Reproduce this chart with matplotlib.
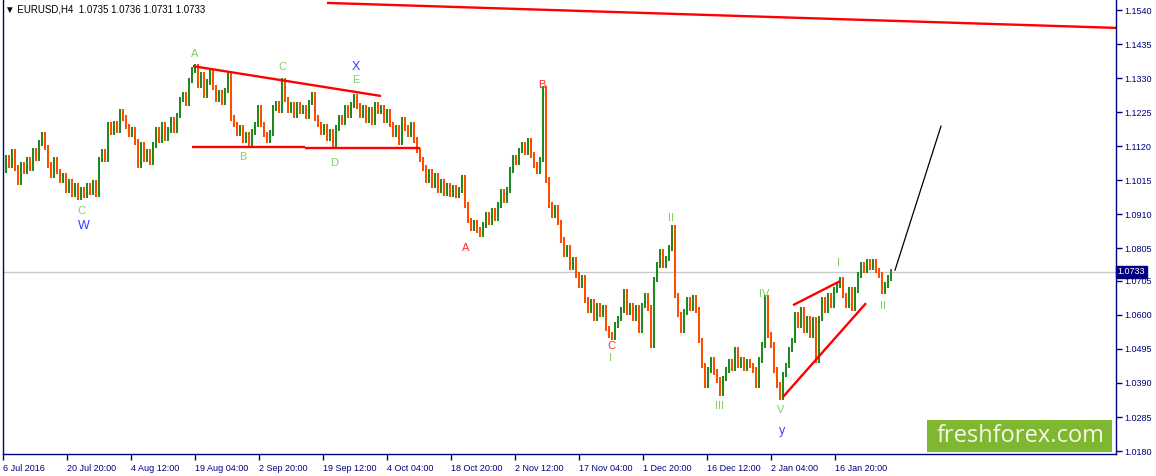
import numpy as np
import matplotlib
matplotlib.use("Agg")
import matplotlib.pyplot as plt
from matplotlib.transforms import blended_transform_factory

closes = [
    1.1047, 1.1084, 1.1062, 1.1102, 1.1053, 1.1010, 1.1062, 1.1041, 1.1078, 1.1053,
    1.1108, 1.1084, 1.1130, 1.1155, 1.1115, 1.1062, 1.1031, 1.1078, 1.1041, 1.1016,
    1.1031, 1.0985, 1.1010, 1.0973, 1.1000, 1.0963, 1.0985, 1.0967, 1.1000, 1.0979,
    1.1007, 1.0970, 1.1078, 1.1102, 1.1078, 1.1186, 1.1164, 1.1189, 1.1170, 1.1226,
    1.1207, 1.1182, 1.1155, 1.1170, 1.1133, 1.1062, 1.1124, 1.1078, 1.1102, 1.1071,
    1.1124, 1.1170, 1.1139, 1.1186, 1.1145, 1.1170, 1.1201, 1.1170, 1.1216, 1.1263,
    1.1278, 1.1253, 1.1324, 1.1355, 1.1367, 1.1309, 1.1340, 1.1278, 1.1318, 1.1349,
    1.1300, 1.1263, 1.1287, 1.1256, 1.1293, 1.1337, 1.1207, 1.1186, 1.1161, 1.1176,
    1.1139, 1.1155, 1.1127, 1.1164, 1.1186, 1.1238, 1.1186, 1.1155, 1.1139, 1.1161,
    1.1238, 1.1253, 1.1232, 1.1324, 1.1263, 1.1232, 1.1250, 1.1216, 1.1247, 1.1226,
    1.1238, 1.1213, 1.1256, 1.1278, 1.1207, 1.1186, 1.1164, 1.1182, 1.1145, 1.1164,
    1.1124, 1.1176, 1.1207, 1.1195, 1.1238, 1.1216, 1.1247, 1.1272, 1.1244, 1.1216,
    1.1238, 1.1201, 1.1232, 1.1195, 1.1247, 1.1226, 1.1238, 1.1201, 1.1226, 1.1186,
    1.1155, 1.1176, 1.1133, 1.1201, 1.1176, 1.1155, 1.1186, 1.1139, 1.1108, 1.1078,
    1.1053, 1.1016, 1.1041, 1.1000, 1.1031, 1.0985, 1.1010, 1.0976, 1.1000, 1.0970,
    1.0991, 1.0967, 1.0985, 1.1022, 1.0939, 1.0892, 1.0868, 1.0886, 1.0862, 1.0849,
    1.0877, 1.0908, 1.0886, 1.0923, 1.0899, 1.0939, 1.0979, 1.0954, 1.0985, 1.1047,
    1.1084, 1.1071, 1.1108, 1.1124, 1.1102, 1.1136, 1.1093, 1.1062, 1.1041, 1.1078,
    1.1297, 1.1016, 1.0939, 1.0908, 1.0930, 1.0886, 1.0831, 1.0785, 1.0806, 1.0745,
    1.0769, 1.0723, 1.0692, 1.0714, 1.0646, 1.0615, 1.0640, 1.0590, 1.0630, 1.0600,
    1.0621, 1.0559, 1.0538, 1.0529, 1.0569, 1.0590, 1.0615, 1.0671, 1.0609, 1.0630,
    1.0590, 1.0621, 1.0553, 1.0630, 1.0661, 1.0621, 1.0507, 1.0708, 1.0754, 1.0794,
    1.0754, 1.0775, 1.0806, 1.0868, 1.0661, 1.0600, 1.0553, 1.0609, 1.0646, 1.0621,
    1.0652, 1.0615, 1.0522, 1.0445, 1.0384, 1.0430, 1.0461, 1.0424, 1.0399, 1.0359,
    1.0405, 1.0430, 1.0455, 1.0436, 1.0492, 1.0445, 1.0461, 1.0436, 1.0455, 1.0445,
    1.0430, 1.0381, 1.0461, 1.0507, 1.0652, 1.0538, 1.0507, 1.0430, 1.0384, 1.0344,
    1.0415, 1.0445, 1.0492, 1.0522, 1.0600, 1.0569, 1.0615, 1.0553, 1.0590, 1.0538,
    1.0584, 1.0461, 1.0590, 1.0646, 1.0615, 1.0661, 1.0630, 1.0677, 1.0692, 1.0708,
    1.0661, 1.0630, 1.0677, 1.0621, 1.0677, 1.0723, 1.0754, 1.0738, 1.0763, 1.0745,
    1.0763, 1.0738, 1.0723, 1.0671, 1.0692, 1.0714, 1.0733,
]
bar_step = 3  # each value stands for 3 H4 bars

price_ticks = [1.1540, 1.1435, 1.1330, 1.1225, 1.1120, 1.1015, 1.0910,
               1.0805, 1.0705, 1.0600, 1.0495, 1.0390, 1.0285, 1.0180]
date_labels = ["6 Jul 2016", "20 Jul 20:00", "4 Aug 12:00", "19 Aug 04:00",
               "2 Sep 20:00", "19 Sep 12:00", "4 Oct 04:00", "18 Oct 20:00",
               "2 Nov 12:00", "17 Nov 04:00", "1 Dec 20:00", "16 Dec 12:00",
               "2 Jan 04:00", "16 Jan 20:00"]
date_every = 64  # H4 bars between date labels

last_price = 1.0733
title = "\u25bc EURUSD,H4  1.0735 1.0736 1.0731 1.0733"

# trend lines: (bar, price) pairs
trend_lines = [
    [(324, 1.1562), (1113, 1.1485)],
    [(190, 1.1367), (378, 1.1275)],
    [(189, 1.1118), (302, 1.1118)],
    [(302, 1.1115), (417, 1.1115)],
    [(790, 1.0630), (837, 1.0704)],
    [(780, 1.0347), (863, 1.0636)],
]
forecast = [(892, 1.0738), (938, 1.1182)]

# wave labels: text, bar, price, colour
GREEN, BLUE, RED = "#7fd163", "#3a3aff", "#ff2a2a"
waves = [
    ("A", 192, 1.1404, GREEN), ("C", 279, 1.1364, GREEN), ("X", 353, 1.1364, BLUE),
    ("E", 353, 1.1324, GREEN), ("B", 240, 1.1087, GREEN), ("D", 331, 1.1068, GREEN),
    ("C", 78, 1.0920, GREEN), ("W", 81, 1.0874, BLUE), ("B", 539, 1.1309, RED),
    ("A", 463, 1.0806, RED), ("II", 668, 1.0899, GREEN), ("C", 608, 1.0504, RED),
    ("I", 608, 1.0467, GREEN), ("IV", 761, 1.0664, GREEN), ("III", 716, 1.0319, GREEN),
    ("V", 778, 1.0307, GREEN), ("y", 779, 1.0242, BLUE), ("I", 835, 1.0760, GREEN),
    ("II", 880, 1.0627, GREEN),
]

NAVY = "#000080"
plt.rcParams["font.family"] = ["Liberation Sans", "DejaVu Sans"]

fig = plt.figure(figsize=(11.56, 4.76), dpi=100)
ax = fig.add_axes([3 / 1156, 22 / 476, 1113 / 1156, 454 / 476])

c = np.array(closes)
o = np.r_[c[0], c[:-1]]
x = np.arange(len(c)) * bar_step
up = c >= o
wick = 0.0008
lo = np.minimum(o, c) - wick
hi = np.maximum(o, c) + wick
ax.vlines(x[up], lo[up], hi[up], color="#1f8a1f", lw=1.45)
ax.vlines(x[~up], lo[~up], hi[~up], color="#ff4d00", lw=1.45)

ax.axhline(last_price, color="#c8c8c8", lw=1, zorder=0)

for seg in trend_lines:
    xs, ys = zip(*seg)
    ax.plot(xs, ys, color="red", lw=1.7, solid_capstyle="butt")
fx, fy = zip(*forecast)
ax.plot(fx, fy, color="black", lw=0.9)

for txt, bx, py, col in waves:
    size = 9 if col == BLUE else 8
    ax.text(bx, py, txt, color=col, fontsize=size, ha="center", va="center")

ax.set_xlim(0, 1113)
ax.set_ylim(1.0171, 1.1571)

ax.yaxis.tick_right()
ax.set_yticks(price_ticks)
ax.set_yticklabels([f"{p:.4f}" for p in price_ticks])
ax.set_xticks(np.arange(len(date_labels)) * date_every)
ax.set_xticklabels(date_labels, ha="left")
ax.tick_params(axis="both", direction="out", length=4, width=1, color=NAVY,
               labelcolor=NAVY, labelsize=6.5, pad=2)
ax.tick_params(axis="x", pad=3)
for s in ["left", "bottom", "right"]:
    ax.spines[s].set_color(NAVY)
    ax.spines[s].set_linewidth(1)
ax.spines["top"].set_visible(False)

# current price box on the scale
tr = blended_transform_factory(ax.transAxes, ax.transData)
ax.text(1.0015, last_price, "1.0733", transform=tr, fontsize=6.5, color="white",
        ha="left", va="center",
        bbox=dict(boxstyle="square,pad=0.15", fc=NAVY, ec=NAVY))

ax.text(0.002, 0.99, title, transform=ax.transAxes, fontsize=7, color="black",
        ha="left", va="top")

# watermark
fig.patches.append(plt.Rectangle((927 / 1156, 24 / 476), 185 / 1156, 32 / 476,
                                 transform=fig.transFigure, fc="#80b731", ec="none",
                                 zorder=5))
fig.text(1021 / 1156, 40 / 476, "freshforex.com", fontsize=17, color="#f4f7e6",
         family="Open Sans", ha="center", va="center", zorder=6)

fig.savefig("out.png", dpi=100)
